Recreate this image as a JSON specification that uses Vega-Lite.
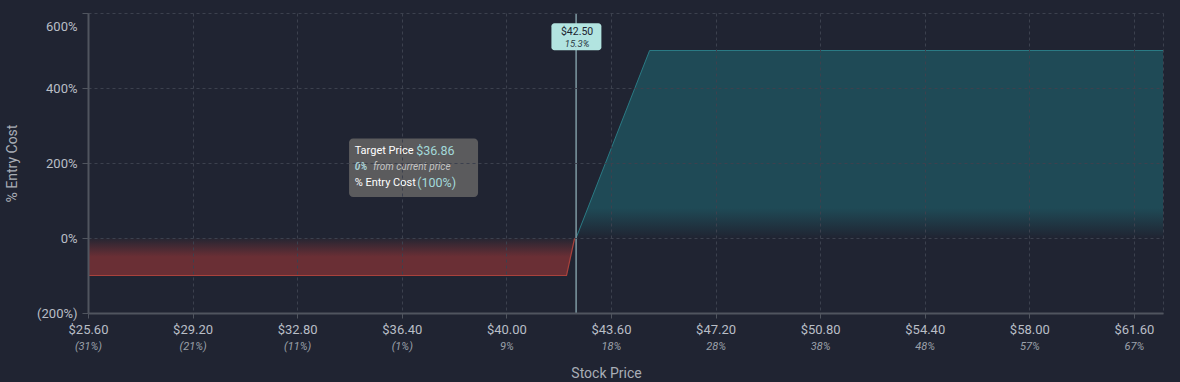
{
  "$schema": "https://vega.github.io/schema/vega-lite/v6.json",
  "width": 1075,
  "height": 300,
  "autosize": {"type": "none"},
  "padding": {"left": 88, "top": 13, "right": 17, "bottom": 69},
  "background": "#202432",
  "config": {"view": {"stroke": null}, "font": "Roboto"},
  "datasets": {
    "red": [
      {"price": 25.6, "pct": -100},
      {"price": 42.07, "pct": -100},
      {"price": 42.35, "pct": 0}
    ],
    "teal": [
      {"price": 42.4, "pct": 0},
      {"price": 44.93, "pct": 500},
      {"price": 62.6, "pct": 500}
    ],
    "be": [
      {"price": 42.4, "pct": 536, "label": "$42.50", "sub": "15.3%", "x1": 41.55, "x2": 43.27, "y1": 500.5, "y2": 572.5}
    ],
    "tip": [
      {"price": 36.86, "pct": 100, "x1": 34.585, "x2": 39.025, "y1": 109.3, "y2": 265.1,
       "t1": "Target Price", "v1": "$36.86", "t2a": "0%", "t2b": "from current price", "t3": "% Entry Cost", "v3": "(100%)"}
    ]
  },
  "layer": [
    {
      "data": {"name": "teal"},
      "mark": {
        "type": "area",
        "fill": {
          "gradient": "linear", "x1": 0, "y1": 0, "x2": 0, "y2": 1,
          "stops": [
            {"offset": 0, "color": "#1f4a56"},
            {"offset": 0.84, "color": "#1f4a56"},
            {"offset": 1, "color": "#202432"}
          ]
        }
      },
      "encoding": {
        "x": {
          "field": "price", "type": "quantitative",
          "scale": {"domain": [25.6, 62.6], "nice": false, "zero": false},
          "axis": {
            "orient": "bottom",
            "zindex": 1,
            "values": [25.6, 29.2, 32.8, 36.4, 40, 43.6, 47.2, 50.8, 54.4, 58, 61.6, 62.6],
            "labelExpr": "datum.value > 62 ? '' : '$' + format(datum.value, '.2f')",
            "labelFlush": false,
            "labelOverlap": false,
            "labelFontSize": 13,
            "labelColor": "#b9bec6",
            "labelPadding": 5,
            "tickSize": 5,
            "tickColor": {"condition": {"test": "datum.value > 62", "value": "transparent"}, "value": "#50555f"},
            "domainColor": "#50555f",
            "domainWidth": 2,
            "grid": true,
            "gridColor": "#3c414e",
            "gridDash": [3, 3],
            "title": "Stock Price",
            "titleFontSize": 14,
            "titleFontWeight": "normal",
            "titleColor": "#a9aeb6",
            "titleX": 518,
            "titleY": 60,
            "titleAlign": "center",
            "titleBaseline": "middle"
          }
        },
        "y": {
          "field": "pct", "type": "quantitative",
          "scale": {"domain": [-200, 600], "nice": false, "zero": false},
          "axis": {
            "orient": "left",
            "zindex": 1,
            "values": [-200, 0, 200, 400, 600],
            "labelExpr": "datum.value < 0 ? '(' + abs(datum.value) + '%)' : datum.value + '%'",
            "labelOffset": {"condition": {"test": "datum.value == 600", "value": 13}, "value": 0},
            "labelFontSize": 13,
            "labelColor": "#b9bec6",
            "labelPadding": 5,
            "tickSize": 6,
            "tickColor": "#50555f",
            "domainColor": "#50555f",
            "domainWidth": 2,
            "grid": true,
            "gridColor": "#3c414e",
            "gridDash": [3, 3],
            "title": "% Entry Cost",
            "titleFontSize": 14,
            "titleFontWeight": "normal",
            "titleColor": "#a9aeb6",
            "titleX": -76,
            "titleY": 150,
            "titleAngle": -90,
            "titleAlign": "center",
            "titleBaseline": "middle"
          }
        },
        "y2": {"datum": 0}
      }
    },
    {
      "data": {"name": "red"},
      "mark": {
        "type": "area",
        "fill": {
          "gradient": "linear", "x1": 0, "y1": 0, "x2": 0, "y2": 1,
          "stops": [
            {"offset": 0, "color": "#242532"},
            {"offset": 0.5, "color": "#6a2f35"},
            {"offset": 1, "color": "#6a2f35"}
          ]
        }
      },
      "encoding": {
        "x": {"field": "price", "type": "quantitative", "axis": null},
        "y": {"field": "pct", "type": "quantitative"},
        "y2": {"datum": 0}
      }
    },
    {
      "data": {"name": "red"},
      "mark": {"type": "line", "stroke": "#a9423c", "strokeWidth": 1.2},
      "encoding": {
        "x": {"field": "price", "type": "quantitative", "axis": null},
        "y": {"field": "pct", "type": "quantitative"}
      }
    },
    {
      "data": {"name": "teal"},
      "mark": {"type": "line", "stroke": "#2a7a84", "strokeWidth": 1},
      "encoding": {
        "x": {"field": "price", "type": "quantitative", "axis": null},
        "y": {"field": "pct", "type": "quantitative"}
      }
    },
    {
      "data": {"name": "be"},
      "mark": {"type": "rule", "stroke": "#7f9aa3", "strokeWidth": 1.5},
      "encoding": {
        "x": {
          "field": "price", "type": "quantitative",
          "axis": {
            "orient": "bottom",
            "zindex": 1,
            "values": [25.6, 29.2, 32.8, 36.4, 40, 43.6, 47.2, 50.8, 54.4, 58, 61.6],
            "labelExpr": "datum.value < 36.86 ? '(' + format(abs(datum.value / 36.86 - 1) * 100, '.0f') + '%)' : format((datum.value / 36.86 - 1) * 100, '.0f') + '%'",
            "labelFlush": false,
            "labelOverlap": false,
            "labelFontSize": 11,
            "labelFontStyle": "italic",
            "labelColor": "#9ca1aa",
            "labelPadding": 27,
            "ticks": false,
            "tickSize": 0,
            "domain": false,
            "grid": false,
            "title": null
          }
        }
      }
    },
    {
      "data": {"name": "be"},
      "mark": {"type": "rect", "fill": "#b2e4e0", "cornerRadius": 3},
      "encoding": {
        "x": {"field": "x1", "type": "quantitative", "axis": null},
        "x2": {"field": "x2"},
        "y": {"field": "y1", "type": "quantitative"},
        "y2": {"field": "y2"}
      }
    },
    {
      "data": {"name": "be"},
      "mark": {"type": "text", "align": "center", "baseline": "middle", "dy": -5.5, "dx": 1, "fontSize": 10.5, "color": "#1d2430"},
      "encoding": {
        "x": {"field": "price", "type": "quantitative", "axis": null},
        "y": {"field": "pct", "type": "quantitative"},
        "text": {"field": "label"}
      }
    },
    {
      "data": {"name": "be"},
      "mark": {"type": "text", "align": "center", "baseline": "middle", "dy": 6.5, "dx": 1, "fontSize": 9.5, "fontStyle": "italic", "color": "#2a3a44"},
      "encoding": {
        "x": {"field": "price", "type": "quantitative", "axis": null},
        "y": {"field": "pct", "type": "quantitative"},
        "text": {"field": "sub"}
      }
    },
    {
      "data": {"name": "tip"},
      "mark": {"type": "rect", "fill": "#5b5b5d", "cornerRadius": 4},
      "encoding": {
        "x": {"field": "x1", "type": "quantitative", "axis": null},
        "x2": {"field": "x2"},
        "y": {"field": "y1", "type": "quantitative"},
        "y2": {"field": "y2"}
      }
    },
    {
      "data": {"name": "tip"},
      "mark": {"type": "text", "align": "left", "baseline": "middle", "dx": -60.5, "dy": -49.8, "fontSize": 11, "color": "#ffffff"},
      "encoding": {
        "x": {"field": "price", "type": "quantitative", "axis": null},
        "y": {"field": "pct", "type": "quantitative"},
        "text": {"field": "t1"}
      }
    },
    {
      "data": {"name": "tip"},
      "mark": {"type": "text", "align": "left", "baseline": "middle", "dx": 1, "dy": -50, "fontSize": 12.5, "color": "#a3dada"},
      "encoding": {
        "x": {"field": "price", "type": "quantitative", "axis": null},
        "y": {"field": "pct", "type": "quantitative"},
        "text": {"field": "v1"}
      }
    },
    {
      "data": {"name": "tip"},
      "mark": {"type": "text", "align": "left", "baseline": "middle", "dx": -60.5, "dy": -33.8, "fontSize": 10, "fontStyle": "italic", "fontWeight": "bold", "color": "#a9d3d6"},
      "encoding": {
        "x": {"field": "price", "type": "quantitative", "axis": null},
        "y": {"field": "pct", "type": "quantitative"},
        "text": {"field": "t2a"}
      }
    },
    {
      "data": {"name": "tip"},
      "mark": {"type": "text", "align": "left", "baseline": "middle", "dx": -42, "dy": -33.8, "fontSize": 10, "fontStyle": "italic", "color": "#c4c4c4"},
      "encoding": {
        "x": {"field": "price", "type": "quantitative", "axis": null},
        "y": {"field": "pct", "type": "quantitative"},
        "text": {"field": "t2b"}
      }
    },
    {
      "data": {"name": "tip"},
      "mark": {"type": "text", "align": "left", "baseline": "middle", "dx": -60.5, "dy": -17.8, "fontSize": 11, "color": "#ffffff"},
      "encoding": {
        "x": {"field": "price", "type": "quantitative", "axis": null},
        "y": {"field": "pct", "type": "quantitative"},
        "text": {"field": "t3"}
      }
    },
    {
      "data": {"name": "tip"},
      "mark": {"type": "text", "align": "left", "baseline": "middle", "dx": 2, "dy": -18, "fontSize": 12.5, "color": "#a3dada"},
      "encoding": {
        "x": {"field": "price", "type": "quantitative", "axis": null},
        "y": {"field": "pct", "type": "quantitative"},
        "text": {"field": "v3"}
      }
    }
  ],
  "resolve": {"axis": {"x": "independent"}}
}
